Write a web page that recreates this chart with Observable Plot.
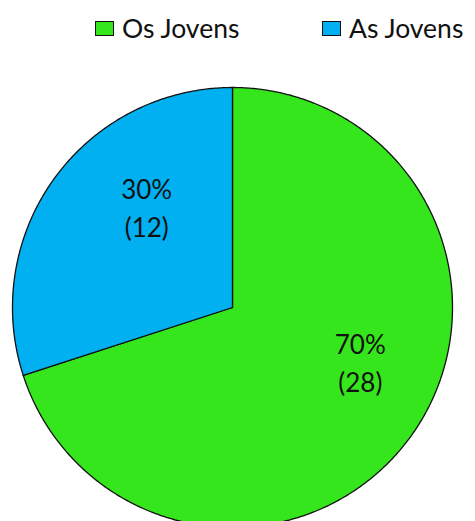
<!DOCTYPE html>
<html>
<head>
<meta charset="utf-8">
<script src="https://cdn.jsdelivr.net/npm/d3@7"></script>
<script src="https://cdn.jsdelivr.net/npm/@observablehq/plot@0.6"></script>
<style>
  html, body { margin: 0; padding: 0; background: #fff; }
  #wrap { width: 475px; height: 521px; overflow: hidden; position: relative; font-family: Lato, "Noto Sans", sans-serif; }
  #legend { height: 50px; position: relative; }
  .item { position: absolute; top: 12px; display: flex; align-items: center; font-size: 26.5px; color: #111; }
  .sw { width: 17px; height: 13px; border: 1.5px solid #111; margin-right: 8px; }
</style>
</head>
<body>
<div id="wrap">
  <div id="legend"></div>
  <div id="chart"></div>
</div>
<script>
const categories = ["Os Jovens", "As Jovens"];
const counts = [28, 12];
const percents = [70, 30];
const colors = ["#35E61C", "#00B0F0"];

// legend
const legend = document.getElementById("legend");
const legendLeft = [95, 322];
categories.forEach((c, i) => {
  const el = document.createElement("div");
  el.className = "item";
  el.style.left = legendLeft[i] + "px";
  el.innerHTML = `<span class="sw" style="background:${colors[i]}"></span><span>${c}</span>`;
  legend.appendChild(el);
});

// pie geometry from data (clockwise from 12 o'clock)
const arcs = d3.pie().sort(null).value(d => d)(counts);
const polys = [];
arcs.forEach((a, i) => {
  const n = Math.max(2, Math.ceil((a.endAngle - a.startAngle) / (Math.PI / 360)));
  polys.push({cat: categories[i], x: 0, y: 0});
  for (let k = 0; k <= n; k++) {
    const t = a.startAngle + (a.endAngle - a.startAngle) * k / n;
    polys.push({cat: categories[i], x: Math.sin(t), y: Math.cos(t)});
  }
  polys.push({cat: categories[i], x: 0, y: 0});
});
const labels = arcs.map((a, i) => {
  const m = (a.startAngle + a.endAngle) / 2;
  return {x: Math.sin(m) * 0.6, y: Math.cos(m) * 0.6, text: `${percents[i]}%\n(${counts[i]})`};
});

const chart = Plot.plot({
  width: 475,
  height: 471,
  x: {domain: [-1, 1], range: [12, 452], axis: null},
  y: {domain: [-1, 1], range: [477, 37], axis: null},
  color: {domain: categories, range: colors},
  style: {fontFamily: "Lato, 'Noto Sans', sans-serif", overflow: "visible"},
  marks: [
    Plot.line(polys, {x: "x", y: "y", z: "cat", fill: "cat", stroke: "#111", strokeWidth: 1.3, curve: "linear"}),
    Plot.text(labels, {x: "x", y: "y", text: "text", fontSize: 26, lineHeight: 1.45, fill: "#111", dx: 21, dy: -24})
  ]
});
document.getElementById("chart").appendChild(chart);
</script>
</body>
</html>
